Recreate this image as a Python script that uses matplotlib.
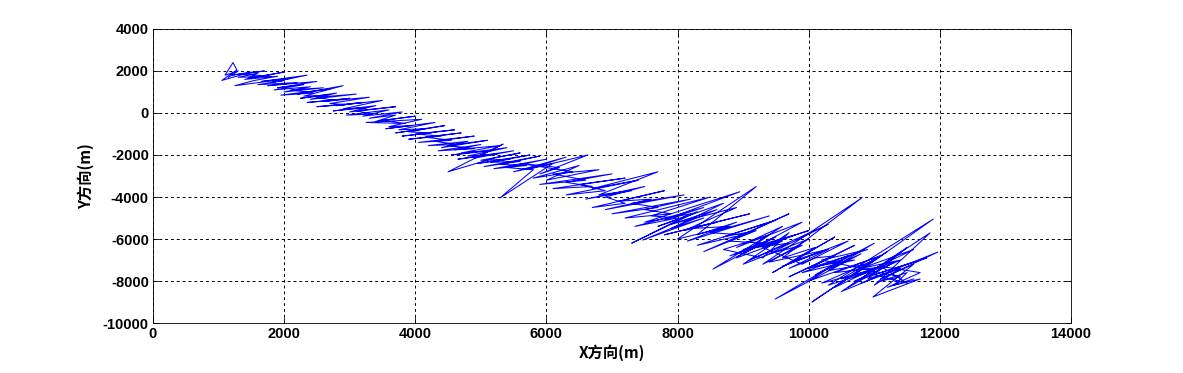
import matplotlib
matplotlib.use("Agg")
import matplotlib.pyplot as plt

# Trajectory points (metres), split into stretches along the track
seg1_x = [1150, 1300, 1100, 1220, 1280, 1050, 1500, 1200, 1700, 1350,
          1800, 1300, 1600, 1450, 2000, 1400, 1900, 1550, 1250, 2100,
          1650, 2350, 1800, 2000, 1600, 2200, 1750, 2500, 1900, 2300,
          1850, 2400, 2000, 2600, 2100, 2450, 1950, 2700, 2200, 2900,
          2300, 2650, 2250, 2800, 2400, 3100, 2500, 2750, 2350, 3000,
          2600, 3300, 2700, 2950, 2500, 3200, 2800, 3500, 2900, 3250,
          2750, 3400, 3000, 3700, 3100, 3350, 2950, 3600, 3200, 3800]
seg1_y = [1700, 2000, 1800, 2400, 2050, 1550, 1950, 1800, 2000, 1850,
          1750, 1700, 1900, 1650, 1950, 1600, 1750, 1550, 1300, 1650,
          1500, 1800, 1450, 1550, 1350, 1450, 1300, 1500, 1200, 1350,
          1100, 1250, 1000, 1200, 1100, 950, 850, 1150, 900, 1300,
          800, 850, 700, 950, 650, 900, 750, 600, 500, 700,
          550, 750, 450, 400, 300, 500, 350, 600, 200, 250,
          100, 350, 50, 300, 100, -50, -100, 150, -150, 50]

seg2_x = [3300, 3700, 3400, 4000, 3500, 3850, 3250, 4100, 3600, 3950,
          3550, 4300, 3750, 4150, 3700, 4450, 3900, 4250, 3800, 4600,
          4000, 4400, 3900, 4700, 4150, 4550, 4050, 4900, 4300, 4650,
          4200, 4800, 4400, 5100, 4500, 4900, 4350, 5000, 4600, 5300,
          4700, 5150, 4550, 5400, 4800, 5250, 4650, 5500, 4900, 5340,
          4500, 5200, 5600, 5000, 5450, 4950, 5750, 5150, 5600, 5050,
          5900, 5300, 5700, 5200, 6000, 5400, 5800, 5290, 6100, 5500]
seg2_y = [-250, -100, -400, -150, -350, -500, -450, -300, -650, -600,
          -750, -450, -800, -750, -950, -600, -900, -950, -1100, -800,
          -1000, -1100, -1250, -950, -1150, -1300, -1400, -1100, -1350, -1500,
          -1550, -1350, -1650, -1300, -1550, -1700, -1800, -1500, -1750, -1550,
          -1900, -1800, -2000, -1650, -2050, -1950, -2200, -1800, -2150, -1480,
          -2800, -2150, -1900, -2250, -2200, -2400, -2000, -2350, -2300, -2550,
          -2050, -2450, -2500, -2650, -2200, -2600, -2700, -4050, -2400, -2800]

seg3_x = [6300, 5700, 6630, 5900, 6200, 5600, 6400, 5800, 6500, 6000,
          6800, 6100, 6600, 5900, 7000, 6300, 6700, 6100, 7200, 6500,
          6900, 6300, 7400, 6700, 7700, 6800, 7300, 6600, 7500, 6900,
          7200, 6700, 7800, 7100, 7600, 6900, 8100, 7300, 7700, 7000,
          8200, 7500, 7900, 7200, 8500, 7600, 8000, 7350, 8400, 7800,
          8950, 7500, 8200, 7300, 8300, 7700, 8700, 7900, 8400, 7470]
seg3_y = [-2100, -2700, -2000, -2900, -2600, -2400, -2800, -3100, -2500, -3200,
          -2700, -2900, -3200, -3400, -2900, -3300, -3500, -3600, -3100, -3400,
          -3700, -3900, -3200, -3600, -2800, -3900, -3700, -4100, -3500, -4000,
          -4300, -4500, -3700, -4200, -4100, -4600, -3900, -4300, -4500, -4800,
          -4100, -4600, -4800, -5000, -4000, -4900, -5000, -5400, -4500, -5100,
          -3750, -5200, -4800, -6200, -4700, -5400, -4300, -5500, -5000, -6050]

seg4_x = [8600, 7900, 8900, 8100, 8600, 7800, 9100, 8200, 8800, 8000,
          9200, 8300, 8900, 8150, 9400, 8500, 9000, 8300, 9500, 8700,
          9200, 8400, 9700, 8800, 9300, 8540, 9600, 8900, 9900, 9000,
          9500, 8800, 10000, 9200, 9700, 9100, 10300, 9400, 9900, 9300,
          10810, 9600, 10100, 9450, 10400, 9800, 10200, 9600, 10600, 9900,
          9300, 9800, 9000, 9600, 8900, 9400, 8700, 9300, 9700, 9000,
          10000, 9400, 10300, 9700, 10100]
seg4_y = [-4600, -5300, -4500, -5600, -5200, -5800, -4800, -5500, -5400, -6000,
          -3500, -5800, -5200, -6100, -4900, -5700, -5800, -6300, -5100, -5900,
          -5600, -6600, -4800, -6100, -6200, -7430, -5400, -6400, -5200, -6700,
          -5900, -6800, -5600, -6400, -6200, -7000, -5300, -6700, -6300, -7200,
          -4040, -6900, -6400, -7600, -5900, -7000, -6600, -7300, -6100, -7200,
          -6400, -5800, -6500, -6100, -6900, -5800, -6500, -6900, -5700, -7200,
          -6000, -7100, -6500, -7400, -6900]

seg5_x = [10400, 9700, 10700, 10000, 10500, 9490, 10800, 10100, 11000, 10300,
          10900, 10050, 11200, 10500, 11000, 10300, 11900, 10700, 11300, 10600,
          11500, 10900, 11200, 10500, 11850, 11000, 11400, 10800, 11970, 11100,
          11600, 10980, 11700, 11300, 11500, 11100, 11400, 10200, 10900, 10100,
          10700, 9900, 10600, 10000, 11100, 10400, 11200, 10200, 11000, 10400,
          11600, 10800, 11400, 10700, 11800, 11000, 11500, 11100, 11700, 11200,
          11600]
seg5_y = [-6800, -7800, -6300, -7400, -7000, -8860, -6700, -7700, -6200, -7500,
          -7200, -9000, -6600, -7900, -7500, -8200, -5050, -7700, -7100, -8300,
          -6400, -7900, -7600, -8500, -5710, -8200, -7400, -8100, -6620, -7900,
          -7200, -8760, -7900, -8200, -7600, -8000, -7800, -7000, -6500, -7300,
          -7000, -7600, -6800, -8000, -6800, -7600, -7300, -8100, -7000, -8300,
          -6500, -7400, -7000, -8000, -6900, -7700, -8100, -7300, -7600, -8300,
          -7900]

x_ticks = [0, 2000, 4000, 6000, 8000, 10000, 12000, 14000]
y_ticks = [-10000, -8000, -6000, -4000, -2000, 0, 2000, 4000]

x_pos = seg1_x + seg2_x + seg3_x + seg4_x + seg5_x
y_pos = seg1_y + seg2_y + seg3_y + seg4_y + seg5_y

plt.rcParams['font.family'] = ['Liberation Sans', 'Noto Sans CJK SC', 'DejaVu Sans']

fig = plt.figure(figsize=(11.83, 3.73), dpi=100)
ax = fig.add_axes([0.1293, 0.134, 0.9053 - 0.1293, 0.9223 - 0.134])
ax.plot(x_pos, y_pos, color='#0000ff', linewidth=0.75)

ax.set_xlim(0, 14000)
ax.set_ylim(-10000, 4000)
ax.set_xticks(x_ticks)
ax.set_yticks(y_ticks)
ax.set_xticklabels([str(v) for v in x_ticks], fontsize=10.5, fontweight='bold')
ax.set_yticklabels([str(v) for v in y_ticks], fontsize=10.5, fontweight='bold')
ax.tick_params(direction='in', top=True, right=True, length=4, width=0.6, pad=3)
ax.grid(True, color='black', linestyle=(0, (3, 3)), linewidth=0.7)
for s in ax.spines.values():
    s.set_linewidth(0.6)

ax.set_xlabel('X方向(m)', fontsize=11, fontweight='bold',
              family=['Noto Sans CJK SC', 'DejaVu Sans'], labelpad=2)
ax.set_ylabel('Y方向(m)', fontsize=11, fontweight='bold',
              family=['Noto Sans CJK SC', 'DejaVu Sans'], labelpad=6)

fig.savefig('out.png', dpi=100)
